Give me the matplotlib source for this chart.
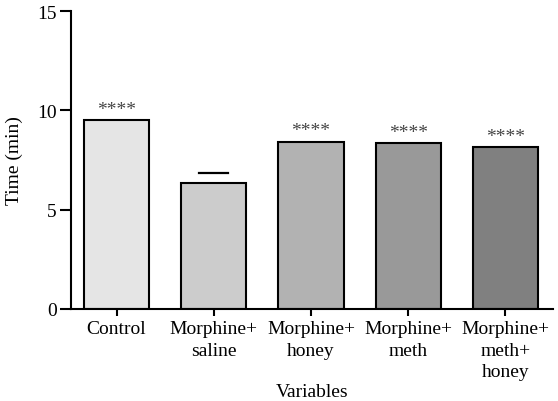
import matplotlib

matplotlib.use("Agg")
import matplotlib.pyplot as plt

# data
groups = ["Control", "Morphine+\nsaline", "Morphine+\nhoney", "Morphine+\nmeth", "Morphine+\nmeth+\nhoney"]
times = [9.5, 6.33, 8.43, 8.35, 8.15]
marks = ["****", "-", "****", "****", "****"]
colors = ["#e5e5e5", "#cccccc", "#b2b2b2", "#999999", "#808080"]

plt.rcParams["font.family"] = ["Liberation Serif", "DejaVu Serif"]

fig = plt.figure(figsize=(5.58, 4.02), dpi=100)
ax = fig.add_axes([0.127, 0.229, 0.864, 0.741])

x = list(range(len(groups)))
ax.bar(x, times, width=0.67, color=colors, edgecolor="black", linewidth=1.5)
for xi, h, m in zip(x, times, marks):
    if m == "-":
        # short bar above saline group
        ax.plot([xi - 0.15, xi + 0.15], [h + 0.5, h + 0.5], color="black", lw=1.6)
    else:
        ax.text(xi, h + 0.12, m, ha="center", va="bottom", fontsize=14, color="#444444")

ax.set_ylim(0, 15)
ax.set_xlim(-0.47, 4.49)
ax.set_yticks([0, 5, 10, 15])
ax.set_xticks(x)
ax.set_xticklabels(groups, fontsize=14, linespacing=1.35)
ax.tick_params(axis="y", labelsize=14, length=8, width=1.5, direction="out", pad=2)
ax.tick_params(axis="x", length=5, width=1.5, direction="out", pad=3)
for s in ("top", "right"):
    ax.spines[s].set_visible(False)
for s in ("left", "bottom"):
    ax.spines[s].set_linewidth(1.5)
ax.set_ylabel("Time (min)", fontsize=14, labelpad=10)
ax.set_xlabel("Variables", fontsize=14, labelpad=2)

fig.savefig("out.png", dpi=100)
